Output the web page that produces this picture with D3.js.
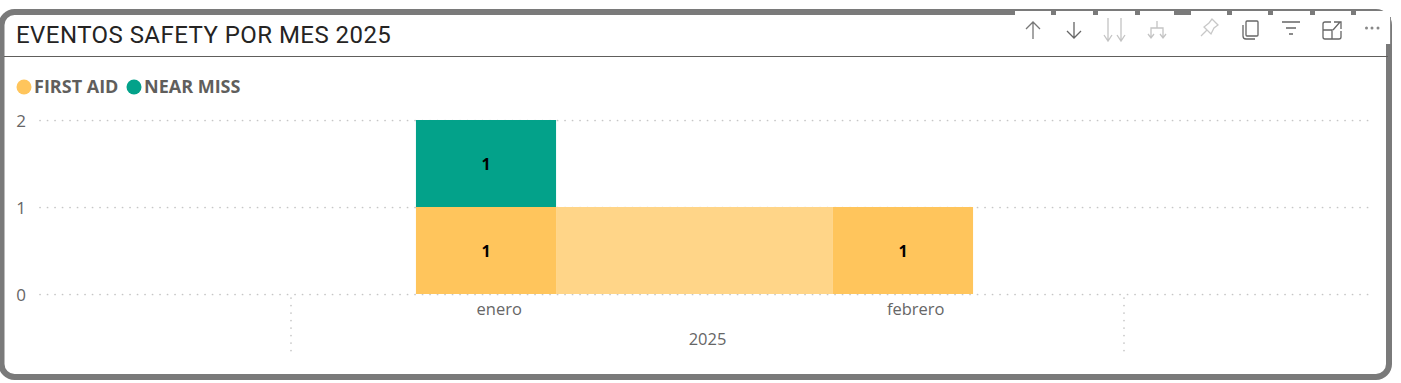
<!DOCTYPE html>
<html>
<head>
<meta charset="utf-8">
<script src="https://cdn.jsdelivr.net/npm/d3@7"></script>
<style>
  html, body { margin: 0; padding: 0; background: #fff; overflow: hidden; }
  svg { display: block; }
</style>
</head>
<body>
<div id="chart"></div>
<script>
const months = ["enero", "febrero"];
const seriesNames = ["FIRST AID", "NEAR MISS"];
const firstAid = [1, 1];
const nearMiss = [1, 0];
const yTicks = [0, 1, 2];
const yearLabel = "2025";
const chartTitle = "EVENTOS SAFETY POR MES 2025";

const width = 1401, height = 383;
const svg = d3.select("#chart").append("svg").attr("width", width).attr("height", height);

const color = d3.scaleOrdinal().domain(seriesNames).range(["#ffc55c", "#03a28a"]);
const ribbon_color = "#ffd588";
const frame_color = "#7a7a7a";
const text_color = "#605e5c";
const axis_text_color = "#666";
const grid_color = "#c6c6c6";

// bars sit a little left of the month labels, as in the reference
const x = d3.scaleBand().domain(months).range([277.5, 1111.5]).paddingInner(0.664).paddingOuter(0.332);
const xLabel = d3.scaleBand().domain(months).range([291, 1124]);
const y = d3.scaleLinear().domain([0, 2]).range([294, 120]);

// frame
svg.append("rect")
  .attr("x", 1.5).attr("y", 12).attr("width", 1387.5).attr("height", 365)
  .attr("rx", 13).attr("fill", "#fff")
  .attr("stroke", frame_color).attr("stroke-width", 6);

// title
svg.append("text")
  .attr("x", 16).attr("y", 43)
  .style("font-family", "Roboto, sans-serif")
  .style("font-size", "24px")
  .style("letter-spacing", "0.45px")
  .attr("fill", "#252423")
  .text(chartTitle);
svg.append("line")
  .attr("x1", 4).attr("x2", 1388).attr("y1", 56.5).attr("y2", 56.5)
  .attr("stroke", "#605e5c").attr("stroke-width", 1);

// legend
const legendX = [24, 134];
const legendG = svg.selectAll(".legend").data(seriesNames).join("g")
  .attr("class", "legend")
  .attr("transform", (d, i) => `translate(${legendX[i]},87)`);
legendG.append("circle").attr("r", 7.5).attr("fill", d => color(d));
legendG.append("text")
  .attr("x", 10).attr("y", 6)
  .style("font-family", "'Open Sans', sans-serif")
  .style("font-size", "18px").style("font-weight", 700)
  .attr("fill", text_color)
  .text(d => d);

// y axis + horizontal grid
const yAxis = svg.append("g").attr("transform", "translate(40,1)")
  .call(d3.axisLeft(y).tickValues(yTicks).tickFormat(d3.format("d")).tickSize(0).tickPadding(14));
yAxis.select(".domain").remove();
yAxis.selectAll("text")
  .style("font-family", "'Open Sans', sans-serif").style("font-size", "17px")
  .attr("fill", axis_text_color);
svg.selectAll(".hgrid").data(yTicks).join("line")
  .attr("class", "hgrid")
  .attr("x1", 40).attr("x2", 1371)
  .attr("y1", d => y(d) + 0.5).attr("y2", d => y(d) + 0.5)
  .attr("stroke", grid_color).attr("stroke-width", 1.7)
  .attr("stroke-linecap", "round").attr("stroke-dasharray", "0.1 7.4");

// vertical separators of the year level
svg.selectAll(".vgrid").data(xLabel.range()).join("line")
  .attr("class", "vgrid")
  .attr("x1", d => d).attr("x2", d => d)
  .attr("y1", 298).attr("y2", 354)
  .attr("stroke", grid_color).attr("stroke-width", 1.7)
  .attr("stroke-linecap", "round").attr("stroke-dasharray", "0.1 7.4");

// ribbon between the first aid segments
const ribbon = d3.area()
  .x(d => d.x).y0(y(0)).y1(d => y(d.v));
svg.append("path")
  .datum([
    { x: x(months[0]) + x.bandwidth(), v: firstAid[0] },
    { x: x(months[1]), v: firstAid[1] }
  ])
  .attr("fill", ribbon_color)
  .attr("d", ribbon);

// stacked bars
const rows = months.map((m, i) => ({ month: m, "FIRST AID": firstAid[i], "NEAR MISS": nearMiss[i] }));
const stacked = d3.stack().keys(seriesNames)(rows);
const layers = svg.selectAll(".layer").data(stacked).join("g")
  .attr("class", "layer").attr("fill", d => color(d.key));
layers.selectAll("rect").data(d => d).join("rect")
  .attr("x", d => x(d.data.month))
  .attr("width", x.bandwidth())
  .attr("y", d => y(d[1]))
  .attr("height", d => y(d[0]) - y(d[1]));
layers.selectAll("text").data(d => d.filter(s => s[1] > s[0])).join("text")
  .attr("x", d => x(d.data.month) + x.bandwidth() / 2)
  .attr("y", d => (y(d[0]) + y(d[1])) / 2 + 6)
  .attr("text-anchor", "middle")
  .style("font-family", "'Open Sans', sans-serif")
  .style("font-size", "16px").style("font-weight", 700)
  .attr("fill", "#000")
  .text(d => d[1] - d[0]);

// x axis labels
const xAxis = svg.append("g").attr("transform", "translate(0,294)")
  .call(d3.axisBottom(xLabel).tickSize(0).tickPadding(9));
xAxis.select(".domain").remove();
xAxis.selectAll("text")
  .style("font-family", "'Open Sans', sans-serif").style("font-size", "16.5px")
  .attr("fill", axis_text_color);
svg.append("text")
  .attr("x", (xLabel.range()[0] + xLabel.range()[1]) / 2).attr("y", 344.5)
  .attr("text-anchor", "middle")
  .style("font-family", "'Open Sans', sans-serif").style("font-size", "16.5px")
  .attr("fill", axis_text_color)
  .text(yearLabel);

// visual header toolbar: white box over the frame, gaps leave small stubs of the border
svg.append("rect").attr("x", 1015).attr("y", 11).attr("width", 375.5).attr("height", 33).attr("fill", "#fff");
svg.selectAll(".stub").data([[1051, 5], [1093, 5], [1135, 5], [1174, 17], [1227, 5], [1268, 5], [1310, 5], [1351, 5]]).join("rect")
  .attr("class", "stub")
  .attr("x", d => d[0]).attr("width", d => d[1])
  .attr("y", 10).attr("height", 5).attr("fill", frame_color);
svg.append("line").attr("x1", 1390.5).attr("x2", 1390.5).attr("y1", 17).attr("y2", 44).attr("stroke", "#8a8a8a");

const icons = svg.append("g").attr("fill", "none").attr("stroke-width", 1.3);
icons.append("path").attr("stroke", "#777").attr("d", "M1033 39V22M1026 29l7-7 7 7");
icons.append("path").attr("stroke", "#666").attr("d", "M1074 22V38M1067 31l7 7 7-7");
icons.append("path").attr("stroke", "#c4c4c4").attr("d", "M1108 18V41M1104 35l4 6 4-6M1121 18V41M1117 35l4 6 4-6");
icons.append("path").attr("stroke", "#c4c4c4").attr("d", "M1157 21V28M1151 38V28H1163V38M1148 34l3 4 3-4M1160 34l3 4 3-4");
icons.append("path").attr("stroke", "#c8c8c8").attr("d", "M1201 36l6-6M1204 27l7 7 3-6 4-3-6-6-3 4z");
icons.append("path").attr("stroke", "#666").attr("d", "M1247 21h10q1 0 1 1v13q0 1-1 1h-10q-1 0-1-1v-13q0-1 1-1zM1243 25v11q0 3 3 3h9");
icons.append("path").attr("stroke", "#666").attr("d", "M1282 22h18M1286 28h10M1289 34h4");
icons.append("path").attr("stroke", "#666").attr("d", "M1331 22h-6q-2 0-2 2v13q0 2 2 2h14q2 0 2-2v-6M1323 30h9v9M1333 30l7-8M1334 22h7v7");
icons.selectAll(".dot").data([1366.5, 1372, 1378]).join("circle")
  .attr("class", "dot")
  .attr("cx", d => d).attr("cy", 28).attr("r", 1.5).attr("fill", "#888").attr("stroke", "none");
</script>
</body>
</html>
